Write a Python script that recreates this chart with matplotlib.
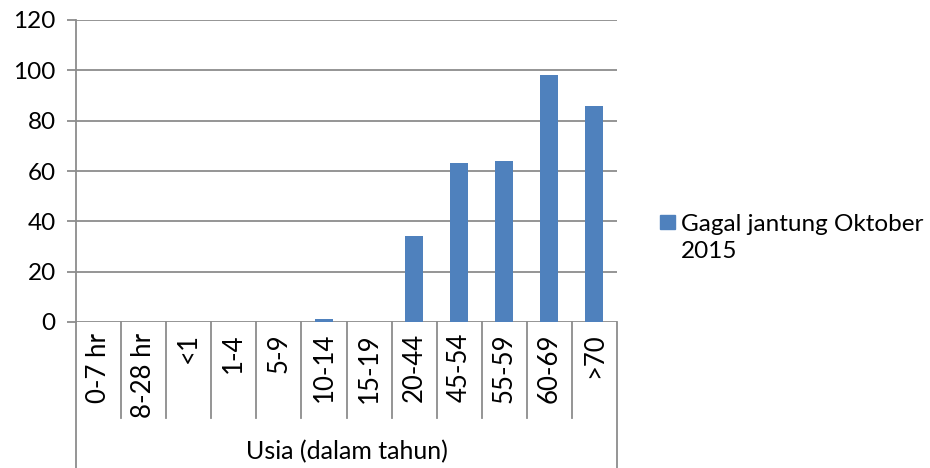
import matplotlib
matplotlib.use("Agg")
import matplotlib.pyplot as plt
from matplotlib.patches import Rectangle

# Data
categories = ["0-7 hr", "8-28 hr", "<1", "1-4", "5-9", "10-14", "15-19",
              "20-44", "45-54", "55-59", "60-69", ">70"]
values = [0, 0, 0, 0, 0, 1, 0, 34, 63, 64, 98, 86]
series_name = "Gagal jantung Oktober\n2015"
axis_title = "Usia (dalam tahun)"
y_ticks = [0, 20, 40, 60, 80, 100, 120]

BAR = "#4F81BD"
GRID = "#8c8c8c"
W, H = 930, 468
FS = 17.5

plt.rcParams['font.family'] = ['Lato', 'DejaVu Sans']

fig = plt.figure(figsize=(W / 100, H / 100), dpi=100)
# plot area in pixels: left 76, right 617, top 20, bottom(zero line) 322
ax = fig.add_axes([76 / W, (H - 322) / H, (617 - 76) / W, (322 - 20) / H])

x = list(range(len(categories)))
ax.bar(x, values, width=0.4, color=BAR, zorder=3)

ax.set_xlim(-0.5, len(categories) - 0.5)
ax.set_ylim(0, 120)
ax.set_yticks(y_ticks)
ax.set_yticklabels([str(v) for v in y_ticks], fontsize=FS)
ax.yaxis.grid(True, color=GRID, linewidth=1.3, zorder=0)
ax.tick_params(axis='y', length=6.5, width=1.3, color=GRID, pad=8)

ax.set_xticks(x)
ax.set_xticklabels(categories, rotation=90, fontsize=18.5, va='top')
ax.tick_params(axis='x', length=0, pad=8)

for s in ["top", "right", "bottom"]:
    ax.spines[s].set_visible(False)
ax.spines["left"].set_color(GRID)
ax.spines["left"].set_linewidth(1.3)

# category separators below the axis
ax_h = 322 - 20
sep_bottom = -(418 - 322) / ax_h
outer_bottom = -(H - 322) / ax_h
trans = ax.get_xaxis_transform()
for i in range(len(categories) + 1):
    xb = i - 0.5
    yb = outer_bottom if i in (0, len(categories)) else sep_bottom
    ax.plot([xb, xb], [0, yb], color=GRID, linewidth=1.3, transform=trans,
            clip_on=False, zorder=1)

ax.text(0.5, -(452 - 322) / ax_h, axis_title, transform=ax.transAxes,
        ha='center', va='center', fontsize=18)

# legend
fig.patches.append(Rectangle((660 / W, (H - 229) / H), 15 / W, 14 / H,
                             transform=fig.transFigure, color=BAR))
fig.text(681 / W, (H - 238) / H, series_name, fontsize=FS, va='center',
         linespacing=1.3, ha='left')

fig.savefig("out.png", dpi=100)
